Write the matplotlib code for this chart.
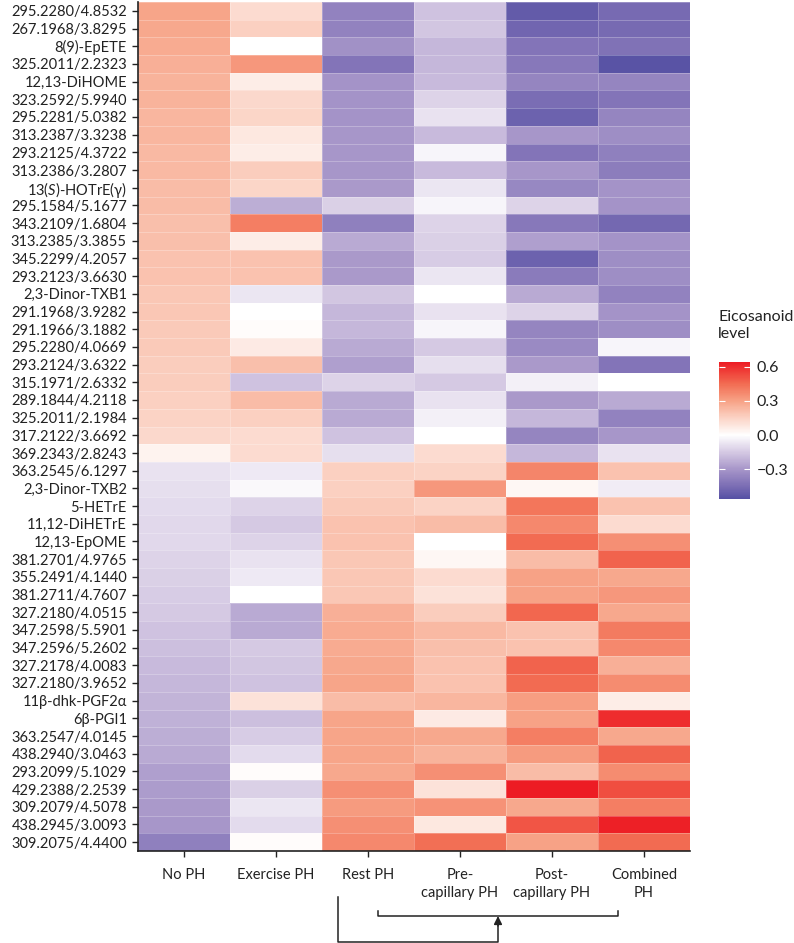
import matplotlib
matplotlib.use("Agg")
import matplotlib.pyplot as plt
import numpy as np
from matplotlib.colors import LinearSegmentedColormap, Normalize
from matplotlib.lines import Line2D

plt.rcParams["font.family"] = ["Lato", "DejaVu Sans"]
plt.rcParams["mathtext.fontset"] = "custom"
plt.rcParams["mathtext.rm"] = "Lato"
plt.rcParams["mathtext.it"] = "Lato:italic"

groups = ["No PH", "Exercise PH", "Rest PH", "Pre-\ncapillary PH",
          "Post-\ncapillary PH", "Combined\nPH"]

compounds = [
    "295.2280/4.8532", "267.1968/3.8295", "8(9)-EpETE", "325.2011/2.2323",
    "12,13-DiHOME", "323.2592/5.9940", "295.2281/5.0382", "313.2387/3.3238",
    "293.2125/4.3722", "313.2386/3.2807", "13($\\it{S}$)-HOTrE(γ)", "295.1584/5.1677",
    "343.2109/1.6804", "313.2385/3.3855", "345.2299/4.2057", "293.2123/3.6630",
    "2,3-Dinor-TXB1", "291.1968/3.9282", "291.1966/3.1882", "295.2280/4.0669",
    "293.2124/3.6322", "315.1971/2.6332", "289.1844/4.2118", "325.2011/2.1984",
    "317.2122/3.6692", "369.2343/2.8243", "363.2545/6.1297", "2,3-Dinor-TXB2",
    "5-HETrE", "11,12-DiHETrE", "12,13-EpOME", "381.2701/4.9765",
    "355.2491/4.1440", "381.2711/4.7607", "327.2180/4.0515", "347.2598/5.5901",
    "347.2596/5.2602", "327.2178/4.0083", "327.2180/3.9652", "11β-dhk-PGF2α",
    "6β-PGI1", "363.2547/4.0145", "438.2940/3.0463", "293.2099/5.1029",
    "429.2388/2.2539", "309.2079/4.5078", "438.2945/3.0093", "309.2075/4.4400",
]

no_ph = [0.29, 0.28, 0.27, 0.26, 0.25, 0.25, 0.24, 0.24, 0.23, 0.23, 0.22, 0.22,
         0.21, 0.21, 0.20, 0.20, 0.19, 0.19, 0.18, 0.18, 0.17, 0.17, 0.16, 0.15,
         0.13, 0.04, -0.08, -0.09, -0.10, -0.11, -0.11, -0.12, -0.13, -0.14, -0.15, -0.17,
         -0.18, -0.19, -0.20, -0.21, -0.22, -0.23, -0.24, -0.27, -0.28, -0.29, -0.30, -0.38]
exercise_ph = [0.12, 0.16, 0.00, 0.33, 0.06, 0.13, 0.14, 0.08, 0.06, 0.17, 0.14, -0.23,
               0.40, 0.06, 0.20, 0.20, -0.07, 0.00, 0.01, 0.07, 0.21, -0.17, 0.22, 0.16,
               0.12, 0.12, -0.06, -0.02, -0.12, -0.15, -0.12, -0.08, -0.06, 0.00, -0.24, -0.24,
               -0.15, -0.16, -0.17, 0.10, -0.18, -0.14, -0.10, 0.01, -0.13, -0.07, -0.10, 0.01]
rest_ph = [-0.37, -0.37, -0.32, -0.42, -0.31, -0.31, -0.31, -0.30, -0.30, -0.30, -0.29, -0.13,
           -0.38, -0.24, -0.29, -0.29, -0.16, -0.20, -0.20, -0.24, -0.27, -0.12, -0.24, -0.24,
           -0.17, -0.09, 0.16, 0.16, 0.18, 0.20, 0.20, 0.19, 0.19, 0.19, 0.26, 0.27,
           0.27, 0.28, 0.29, 0.22, 0.29, 0.29, 0.29, 0.28, 0.35, 0.32, 0.35, 0.37]
pre_cap_ph = [-0.17, -0.16, -0.20, -0.20, -0.19, -0.12, -0.08, -0.19, -0.03, -0.19, -0.07, -0.03,
              -0.12, -0.13, -0.14, -0.07, 0.00, -0.08, -0.03, -0.15, -0.09, -0.15, -0.08, -0.04,
              0.00, 0.12, 0.15, 0.33, 0.15, 0.22, 0.00, 0.03, 0.12, 0.10, 0.17, 0.23,
              0.21, 0.20, 0.20, 0.24, 0.07, 0.28, 0.25, 0.35, 0.10, 0.34, 0.08, 0.44]
post_cap_ph = [-0.52, -0.48, -0.42, -0.41, -0.36, -0.45, -0.49, -0.30, -0.42, -0.30, -0.35, -0.12,
               -0.41, -0.27, -0.49, -0.40, -0.24, -0.12, -0.36, -0.34, -0.29, -0.04, -0.29, -0.20,
               -0.36, -0.20, 0.38, 0.03, 0.42, 0.37, 0.45, 0.22, 0.30, 0.30, 0.46, 0.20,
               0.20, 0.47, 0.45, 0.31, 0.30, 0.40, 0.32, 0.22, 0.64, 0.28, 0.50, 0.30]
combined_ph = [-0.46, -0.46, -0.43, -0.55, -0.36, -0.42, -0.36, -0.33, -0.38, -0.39, -0.31, -0.31,
               -0.47, -0.31, -0.33, -0.33, -0.37, -0.31, -0.33, -0.03, -0.42, 0.00, -0.24, -0.37,
               -0.30, -0.08, 0.20, -0.05, 0.20, 0.12, 0.35, 0.47, 0.28, 0.33, 0.28, 0.41,
               0.37, 0.26, 0.36, 0.06, 0.60, 0.28, 0.47, 0.36, 0.52, 0.40, 0.63, 0.45]

data = np.array([no_ph, exercise_ph, rest_ph, pre_cap_ph, post_cap_ph, combined_ph]).T

vmin, vmax = -0.56, 0.64
def pos(v):
    return (v - vmin) / (vmax - vmin)

cmap = LinearSegmentedColormap.from_list("eico", [
    (pos(-0.56), "#5651a4"),
    (pos(-0.45), "#7b6db4"),
    (pos(-0.30), "#a796c9"),
    (pos(-0.15), "#d5c9e3"),
    (pos(0.0), "#ffffff"),
    (pos(0.15), "#fbd3c5"),
    (pos(0.30), "#f7a286"),
    (pos(0.45), "#f26c52"),
    (pos(0.64), "#ed1c24"),
])
norm = Normalize(vmin=vmin, vmax=vmax)

W, H = 794, 943
fig = plt.figure(figsize=(W / 100, H / 100), dpi=100)
ax = fig.add_axes([138 / W, 1 - 851 / H, 552 / W, 849 / H])

ax.pcolormesh(np.arange(len(groups) + 1), np.arange(len(compounds) + 1), data,
              cmap=cmap, norm=norm, edgecolors=(1, 1, 1, 0.25), linewidth=0.4)
ax.set_xlim(0, len(groups))
ax.set_ylim(len(compounds), 0)

ax.set_yticks(np.arange(len(compounds)) + 0.5)
ax.set_yticklabels(compounds, fontsize=10.5, color="#222222")
ax.set_xticks(np.arange(len(groups)) + 0.5)
ax.set_xticklabels(groups, fontsize=10.5, color="#222222", linespacing=1.35)
ax.tick_params(length=4, width=1, color="#222222", pad=4)
ax.tick_params(axis="x", pad=8)
for s in ["top", "right"]:
    ax.spines[s].set_visible(False)
for s in ["left", "bottom"]:
    ax.spines[s].set_linewidth(1.2)
    ax.spines[s].set_color("#222222")

# colourbar
cax = fig.add_axes([719 / W, 1 - 499 / H, 31 / W, 137 / H])
sm = plt.cm.ScalarMappable(cmap=cmap, norm=norm)
cb = fig.colorbar(sm, cax=cax, ticks=[-0.3, 0.0, 0.3, 0.6])
cb.ax.set_yticklabels(["\u22120.3", "0.0", "0.3", "0.6"], fontsize=11.5, color="#222222")
cb.outline.set_visible(False)
cax.tick_params(direction="in", color="white", length=4, width=0.8, left=True, right=True, pad=5)
fig.text(718 / W, 1 - 310 / H, "Eicosanoid\nlevel", fontsize=11.5, color="#222222",
         va="top", ha="left", linespacing=1.3)

# bracket and arrow below the groups
def fx(px):
    return px / W

def fy(py):
    return 1 - py / H

lc = "#222222"
fig.add_artist(Line2D([fx(378), fx(378), fx(618), fx(618)],
                      [fy(911), fy(916), fy(916), fy(911)], color=lc, lw=1.1))
fig.add_artist(Line2D([fx(338), fx(338), fx(498), fx(498)],
                      [fy(897), fy(941.5), fy(941.5), fy(925)], color=lc, lw=1.1))
ax.annotate("", xy=(fx(498), fy(916)), xytext=(fx(498), fy(926)),
            xycoords="figure fraction", textcoords="figure fraction",
            arrowprops=dict(arrowstyle="-|>", color=lc, lw=1.1, mutation_scale=12,
                            shrinkA=0, shrinkB=0))

fig.savefig("out.png", dpi=100)
